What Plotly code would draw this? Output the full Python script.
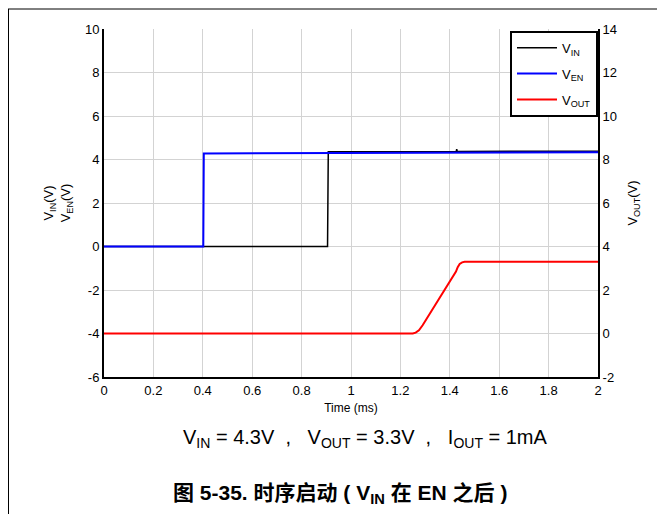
import plotly.graph_objects as go

# ---- data ----
t_vin = [0, 0.905, 0.908, 1.426, 1.428, 1.430, 2.0]
v_vin = [0, 0, 4.36, 4.37, 4.48, 4.37, 4.38]

t_ven = [0, 0.402, 0.404, 0.9, 1.4, 2.0]
v_ven = [0, 0, 4.28, 4.29, 4.31, 4.33]

t_vout = [0, 1.25, 1.262, 1.275, 1.29, 1.425, 1.432, 1.44, 1.45, 1.46, 2.0]
v_vout = [0, 0, 0.04, 0.15, 0.38, 2.85, 3.05, 3.2, 3.27, 3.3, 3.3]

x_ticks = [0, 0.2, 0.4, 0.6, 0.8, 1, 1.2, 1.4, 1.6, 1.8, 2]
x_labels = ["0", "0.2", "0.4", "0.6", "0.8", "1", "1.2", "1.4", "1.6", "1.8", "2"]
y_left_ticks = [-6, -4, -2, 0, 2, 4, 6, 8, 10]
y_left_labels = ["-6", "-4", "-2", "0", "2", "4", "6", "8", "10"]
y_right_ticks = [-2, 0, 2, 4, 6, 8, 10, 12, 14]
y_right_labels = ["-2", "0", "2", "4", "6", "8", "10", "12", "14"]

FONT = "Arial, 'Liberation Sans', 'Noto Sans CJK SC', sans-serif"
NB = "\u00a0"

fig = go.Figure()
fig.add_trace(go.Scatter(x=t_vin, y=v_vin, mode="lines", name="V<sub>IN</sub>",
                         legendgroup="a", line=dict(color="#000000", width=1.5)))
fig.add_trace(go.Scatter(x=t_ven, y=v_ven, mode="lines", name="V<sub>EN</sub>",
                         legendgroup="b", line=dict(color="#0000ff", width=2)))
fig.add_trace(go.Scatter(x=t_vout, y=v_vout, mode="lines", name="V<sub>OUT</sub>",
                         legendgroup="c", yaxis="y2", line=dict(color="#ff0000", width=2)))

# page body has an 8px margin; figure coordinates = screen - 8
L, R, T, B = 96, 67, 21, 137
W, H = 657, 506
pw, ph = W - L - R, H - T - B

def px(x):
    return (x - L) / pw

def py(y):
    return (H - B - y) / ph

fig.update_layout(
    width=W, height=H,
    margin=dict(l=L, r=R, t=T, b=B, pad=0),
    paper_bgcolor="white", plot_bgcolor="white",
    font=dict(family=FONT, size=13, color="#000000"),
    showlegend=True,
    legend=dict(x=1, xanchor="right", y=0.995, yanchor="top",
                bgcolor="white", bordercolor="#000000", borderwidth=2,
                font=dict(size=13), itemwidth=40,
                traceorder="grouped", tracegroupgap=6),
    xaxis=dict(range=[0, 2], tickvals=x_ticks, ticktext=x_labels,
               showgrid=True, gridcolor="#d3d3d3", gridwidth=1,
               showline=True, linecolor="#000000", linewidth=2,
               ticks="", zeroline=False,
               title=dict(text="Time (ms)", font=dict(size=12), standoff=7),
               tickfont=dict(size=13)),
    yaxis=dict(range=[-6, 10], tickvals=y_left_ticks, ticktext=y_left_labels,
               showgrid=True, gridcolor="#d3d3d3", gridwidth=1,
               showline=True, linecolor="#000000", linewidth=2,
               ticks="", zeroline=False,
               title=dict(text="V<sub>IN</sub>(V)<br>V<sub>EN</sub>(V)", font=dict(size=13), standoff=11),
               tickfont=dict(size=13)),
    yaxis2=dict(range=[-2, 14], tickvals=y_right_ticks, ticktext=y_right_labels,
                overlaying="y", side="right",
                showgrid=False, showline=True, linecolor="#000000", linewidth=2,
                ticks="", zeroline=False,
                title=dict(text="V<sub>OUT</sub>(V)", font=dict(size=13), standoff=12),
                tickfont=dict(size=13)),
)

# page frame lines
fig.add_shape(type="line", xref="paper", yref="paper",
              x0=px(0), x1=px(W), y0=py(1), y1=py(1),
              line=dict(color="#000000", width=1))
fig.add_shape(type="line", xref="paper", yref="paper",
              x0=px(0.5), x1=px(0.5), y0=py(1), y1=py(H),
              line=dict(color="#000000", width=1))

GAP_L = NB * 2
GAP_R = NB * 3
sub_text = ("V<sub>IN</sub> = 4.3V" + GAP_L + "," + GAP_R + "V<sub>OUT</sub> = 3.3V"
            + GAP_L + "," + GAP_R + "I<sub>OUT</sub> = 1mA")
fig.add_annotation(xref="paper", yref="paper", x=px(357), y=py(430),
                   text=sub_text,
                   showarrow=False, font=dict(size=20, family=FONT),
                   xanchor="center", yanchor="middle")
fig.add_annotation(xref="paper", yref="paper", x=px(332), y=py(486),
                   text="<b>图 5-35. 时序启动 ( V<sub>IN</sub> 在 EN 之后 )</b>",
                   showarrow=False, font=dict(size=21, family=FONT),
                   xanchor="center", yanchor="middle")

fig.write_html("out.html")
